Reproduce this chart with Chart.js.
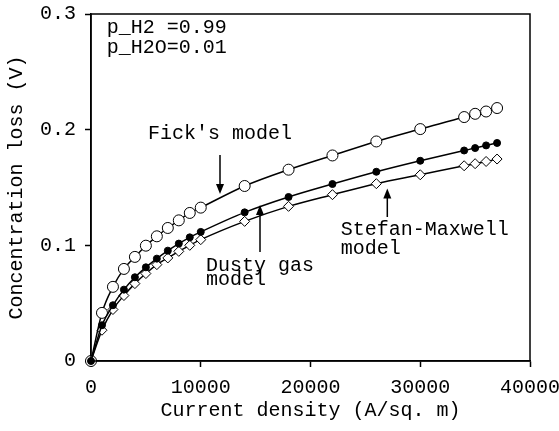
<!DOCTYPE html>
<html>
<head>
<meta charset="utf-8">
<script src="https://cdn.jsdelivr.net/npm/chart.js@4"></script>
<style>
    html, body { margin: 0; padding: 0; background: #fff; }
    #wrap { width: 559px; height: 431px; }
</style>
</head>
<body>
<div id="wrap"><canvas id="lossChart"></canvas></div>
<script>
// current density (A/sq. m)
const currentDensity = [0, 1000, 2000, 3000, 4000, 5000, 6000, 7000, 8000, 9000, 10000,
    14000, 18000, 22000, 26000, 30000, 34000, 35000, 36000, 37000];

// concentration loss (V)
const fickLoss = [0, 0.0416, 0.0641, 0.0796, 0.0900, 0.0997, 0.1078, 0.1150, 0.1216, 0.1280, 0.1326,
    0.1513, 0.1654, 0.1777, 0.1898, 0.2005, 0.2109, 0.2137, 0.2157, 0.2187];
const dustyLoss = [0, 0.0309, 0.0482, 0.0617, 0.0724, 0.0810, 0.0885, 0.0954, 0.1015, 0.1069, 0.1116,
    0.1285, 0.1418, 0.1530, 0.1636, 0.1731, 0.1820, 0.1841, 0.1864, 0.1885];
const stefanLoss = [0, 0.0266, 0.0445, 0.0566, 0.0669, 0.0756, 0.0833, 0.0891, 0.0948, 0.1000, 0.1049,
    0.1207, 0.1337, 0.1438, 0.1533, 0.1610, 0.1688, 0.1706, 0.1725, 0.1746];

const xTicks = [0, 10000, 20000, 30000, 40000];
const yTicks = [0, 0.1, 0.2, 0.3];

const FONT = "'Liberation Mono', 'Courier New', monospace";
const FONT_SIZE = 20;

function toPoints(values) {
    return values.map((v, i) => ({ x: currentDensity[i], y: v }));
}

// text notes and arrows, placed in data coordinates
const notes = [
    { x: 1430, y: 0.2833, text: "p_H2 =0.99" },
    { x: 1430, y: 0.2665, text: "p_H2O=0.01" },
    { x: 5194, y: 0.1915, text: "Fick's model" },
    { x: 10478, y: 0.0781, text: "Dusty gas" },
    { x: 10478, y: 0.0657, text: "model" },
    { x: 22752, y: 0.1089, text: "Stefan-Maxwell" },
    { x: 22752, y: 0.0925, text: "model" },
];
const arrows = [
    { x: 11754, from: 0.1781, to: 0.1444 },
    { x: 15399, from: 0.0942, to: 0.1349 },
    { x: 26998, from: 0.1245, to: 0.1491 },
];

const notesPlugin = {
    id: "notes",
    afterDatasetsDraw(chart) {
        const ctx = chart.ctx;
        const xs = chart.scales.x;
        const ys = chart.scales.y;
        const area = chart.chartArea;
        ctx.save();
        // frame around plot
        ctx.strokeStyle = "#000";
        ctx.lineWidth = 1.5;
        ctx.strokeRect(area.left, area.top, area.right - area.left, area.bottom - area.top);

        ctx.fillStyle = "#000";
        ctx.font = FONT_SIZE + "px " + FONT;
        ctx.textAlign = "left";
        ctx.textBaseline = "alphabetic";
        notes.forEach((n) => {
            ctx.fillText(n.text, xs.getPixelForValue(n.x), ys.getPixelForValue(n.y));
        });

        arrows.forEach((a) => {
            const x = xs.getPixelForValue(a.x);
            const y1 = ys.getPixelForValue(a.from);
            const y2 = ys.getPixelForValue(a.to);
            const dir = y2 > y1 ? 1 : -1;
            ctx.beginPath();
            ctx.lineWidth = 1.5;
            ctx.moveTo(x, y1);
            ctx.lineTo(x, y2 - dir * 8);
            ctx.stroke();
            ctx.beginPath();
            ctx.moveTo(x, y2);
            ctx.lineTo(x - 4, y2 - dir * 10);
            ctx.lineTo(x + 4, y2 - dir * 10);
            ctx.closePath();
            ctx.fill();
        });
        ctx.restore();
    },
};

const ctx = document.getElementById("lossChart").getContext("2d");

new Chart(ctx, {
    type: "line",
    data: {
        datasets: [
            {
                label: "Stefan-Maxwell model",
                data: toPoints(stefanLoss),
                borderColor: "#000",
                borderWidth: 1.5,
                pointStyle: "rectRot",
                pointRadius: 5,
                pointBackgroundColor: "#fff",
                pointBorderColor: "#000",
                pointBorderWidth: 1,
                cubicInterpolationMode: "monotone",
                clip: false,
                order: 3,
            },
            {
                label: "Fick's model",
                data: toPoints(fickLoss),
                borderColor: "#000",
                borderWidth: 1.5,
                pointStyle: "circle",
                pointRadius: 5.5,
                pointBackgroundColor: "#fff",
                pointBorderColor: "#000",
                pointBorderWidth: 1,
                cubicInterpolationMode: "monotone",
                clip: false,
                order: 2,
            },
            {
                label: "Dusty gas model",
                data: toPoints(dustyLoss),
                borderColor: "#000",
                borderWidth: 1.5,
                pointStyle: "circle",
                pointRadius: 3.5,
                pointBackgroundColor: "#000",
                pointBorderColor: "#000",
                pointBorderWidth: 1,
                cubicInterpolationMode: "monotone",
                clip: false,
                order: 1,
            },
        ],
    },
    options: {
        responsive: true,
        maintainAspectRatio: false,
        animation: false,
        layout: {
            padding: { top: 14, right: 0, left: 0, bottom: 0 },
        },
        scales: {
            x: {
                type: "linear",
                min: 0,
                max: 40000,
                afterBuildTicks: (scale) => {
                    scale.ticks = xTicks.map((v) => ({ value: v }));
                },
                afterFit: (scale) => {
                    scale.paddingRight = 29;
                    scale.height = 70;
                },
                ticks: {
                    color: "#000",
                    font: { family: FONT, size: FONT_SIZE },
                    padding: 9,
                    maxRotation: 0,
                    callback: (v) => String(v),
                },
                grid: {
                    drawOnChartArea: false,
                    tickLength: 6,
                    tickColor: "#000",
                    tickWidth: 1.5,
                },
                border: { color: "#000", width: 1.5 },
                title: {
                    display: true,
                    text: "Current density (A/sq. m)",
                    color: "#000",
                    font: { family: FONT, size: FONT_SIZE },
                    padding: { top: 0, bottom: 8 },
                },
            },
            y: {
                min: 0,
                max: 0.3,
                afterBuildTicks: (scale) => {
                    scale.ticks = yTicks.map((v) => ({ value: v }));
                },
                afterFit: (scale) => {
                    scale.width = 91;
                    scale.paddingTop = 0;
                    scale.paddingBottom = 0;
                },
                ticks: {
                    color: "#000",
                    font: { family: FONT, size: FONT_SIZE },
                    padding: 9,
                    callback: (v) => (v === 0 ? "0" : v.toFixed(1)),
                },
                grid: {
                    drawOnChartArea: false,
                    tickLength: 6,
                    tickColor: "#000",
                    tickWidth: 1.5,
                },
                border: { color: "#000", width: 1.5 },
                title: {
                    display: true,
                    text: "Concentration loss (V)",
                    color: "#000",
                    font: { family: FONT, size: FONT_SIZE },
                    padding: { top: 5, bottom: 0 },
                },
            },
        },
        plugins: {
            legend: { display: false },
            tooltip: { enabled: false },
        },
    },
    plugins: [notesPlugin],
});
</script>
</body>
</html>
